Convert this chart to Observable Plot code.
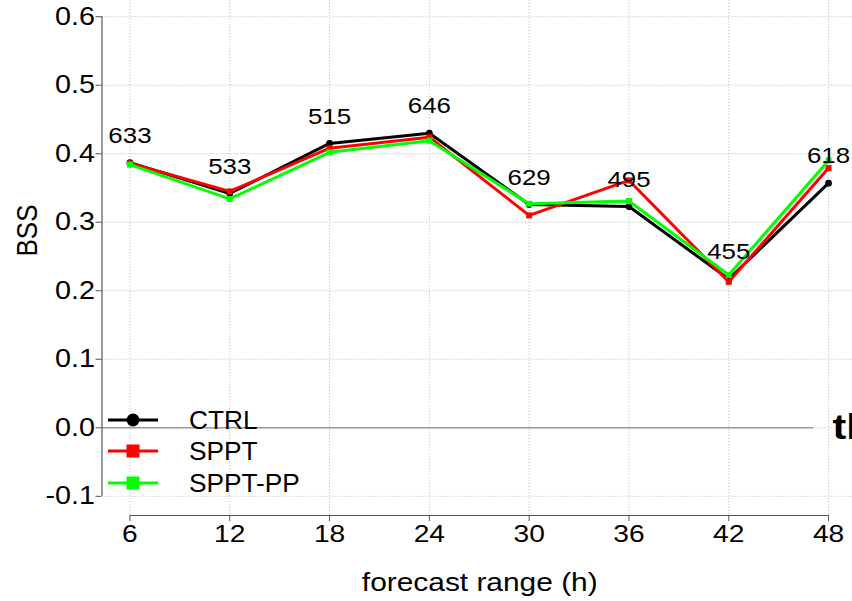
<!DOCTYPE html>
<html>
<head>
<meta charset="utf-8">
<script src="https://cdn.jsdelivr.net/npm/d3@7"></script>
<script src="https://cdn.jsdelivr.net/npm/@observablehq/plot@0.6"></script>
<style>
  html, body { margin: 0; padding: 0; background: #fff; overflow: hidden; }
  #chart svg { display: block; }
</style>
</head>
<body>
<div id="chart"></div>
<script>
// Brier skill score by forecast lead time for three ensemble configurations
const hours = [6, 12, 18, 24, 30, 36, 42, 48];
const ctrl = [0.387, 0.342, 0.415, 0.430, 0.326, 0.323, 0.217, 0.357];
const sppt = [0.386, 0.345, 0.408, 0.424, 0.310, 0.361, 0.213, 0.379];
const spptPP = [0.384, 0.334, 0.402, 0.419, 0.327, 0.331, 0.223, 0.390];
// number of cases at each lead time
const counts = [633, 533, 515, 646, 629, 495, 455, 618];

const yTicks = [-0.1, 0.0, 0.1, 0.2, 0.3, 0.4, 0.5, 0.6];
const seriesNames = ["CTRL", "SPPT", "SPPT-PP"];
const seriesValues = [ctrl, sppt, spptPP];
const seriesColors = ["#000000", "#ff0000", "#00ff00"];
const seriesSymbols = ["circle", "square", "square"];

const W = 852, H = 601;
const FONT = "'Liberation Sans', Arial, Helvetica, sans-serif";
const TEXT_STRETCH = 1.15;   // horizontal widening of all lettering
const LEGEND_STRETCH = 1.05;

// plot region edges in pixels
const leftPx = 101.5, bottomPx = 515, rightPx = 856, topPx = -3;

// R-style 4% expansion of the axis ranges
const xExt = d3.extent(hours), yExt = d3.extent(yTicks);
const xPad = (xExt[1] - xExt[0]) * 0.04, yPad = (yExt[1] - yExt[0]) * 0.04;
const xLo = xExt[0] - xPad, xHi = xExt[1] + xPad;
const yLo = yExt[0] - yPad, yHi = yExt[1] + yPad;

const rows = hours.map((h, i) => ({hour: h, ctrl: ctrl[i], count: counts[i]}));
const seriesRows = seriesNames.map((name, s) =>
  hours.map((h, i) => ({series: name, hour: h, value: seriesValues[s][i]}))
);

// legend drawn in the lower-left corner of the frame
function legend(index, scales, values, dims) {
  const g = d3.create("svg:g").attr("font-family", FONT);
  const x0 = dims.marginLeft, yb = dims.height - dims.marginBottom;
  const rowDy = [-95, -64, -32];
  seriesNames.forEach((name, i) => {
    const y = yb + rowDy[i];
    g.append("line")
      .attr("x1", x0 + 6.5).attr("x2", x0 + 56.5)
      .attr("y1", y).attr("y2", y)
      .attr("stroke", seriesColors[i]).attr("stroke-width", 3);
    if (seriesSymbols[i] === "circle") {
      g.append("circle").attr("cx", x0 + 31.5).attr("cy", y).attr("r", 6.5)
        .attr("fill", seriesColors[i]);
    } else {
      g.append("rect").attr("x", x0 + 25).attr("y", y - 6.5)
        .attr("width", 13).attr("height", 13).attr("fill", seriesColors[i]);
    }
    g.append("text").attr("x", x0 + 87.5).attr("y", y)
      .attr("dy", "0.35em").attr("font-size", 25).attr("fill", "#000")
      .attr("text-anchor", "start").attr("data-stretch", LEGEND_STRETCH)
      .text(name);
  });
  return g.node();
}

const gridStyle = {stroke: "#c4c4c4", strokeOpacity: 1, strokeDasharray: "1.2,1.8", strokeWidth: 1};

const marks = [
  Plot.gridX(hours, gridStyle),
  Plot.gridY(yTicks, gridStyle),
  // zero reference line
  Plot.ruleY([0], {x1: xLo, x2: 47.1, stroke: "#9a9a9a", strokeWidth: 1.5}),
  // axis lines spanning the tick range
  Plot.ruleX([xLo], {y1: yExt[0], y2: yExt[1], stroke: "#555", strokeWidth: 1.2}),
  Plot.ruleY([yLo], {x1: xExt[0], x2: xExt[1], stroke: "#555", strokeWidth: 1.2}),
  Plot.axisY(yTicks, {
    anchor: "left", tickSize: 6, tickPadding: 1, stroke: "#555",
    fill: "#000", fontSize: 25, label: null, tickFormat: d => d.toFixed(1)
  }),
  Plot.axisX(hours, {
    anchor: "bottom", tickSize: 6, tickPadding: 3, stroke: "#555",
    fill: "#000", fontSize: 24.5, label: null, tickFormat: d => String(d)
  })
];

seriesRows.forEach((data, s) => {
  marks.push(Plot.line(data, {x: "hour", y: "value", stroke: seriesColors[s], strokeWidth: 3}));
  marks.push(Plot.dot(data, {
    x: "hour", y: "value", symbol: () => seriesSymbols[s],
    fill: seriesColors[s], r: seriesSymbols[s] === "circle" ? 3.4 : 3.4
  }));
});

marks.push(
  Plot.text(rows, {x: "hour", y: "ctrl", text: "count", dy: -27, fontSize: 22.5, fill: "#000", lineAnchor: "middle"}),
  Plot.text(["th"], {x: () => xExt[1], y: () => 0, text: d => d, dx: 4, textAnchor: "start",
    fontWeight: "bold", fontSize: 36, fill: "#000", lineAnchor: "middle"}),
  Plot.text(["forecast range (h)"], {frameAnchor: "bottom", text: d => d, dx: 2.5, dy: 67,
    fontSize: 26, fill: "#000", lineAnchor: "middle"}),
  Plot.text(["BSS"], {frameAnchor: "left", text: d => d, dx: -77, dy: -1.5, rotate: -90,
    fontSize: 26, fill: "#000", lineAnchor: "middle"}),
  legend
);

const chart = Plot.plot({
  width: W,
  height: H,
  marginLeft: leftPx,
  marginRight: 0,
  marginTop: 0,
  marginBottom: H - bottomPx,
  style: {fontFamily: FONT, background: "#fff", color: "#000"},
  x: {domain: [xLo, xHi], range: [leftPx, rightPx]},
  y: {domain: [yLo, yHi], range: [bottomPx, topPx]},
  marks
});

document.getElementById("chart").appendChild(chart);

// widen every label horizontally about its anchor point
const SVGNS = "http://www.w3.org/2000/svg";
chart.querySelectorAll("text").forEach(t => {
  const factor = +(t.getAttribute("data-stretch") || TEXT_STRETCH);
  const wrap = document.createElementNS(SVGNS, "g");
  t.parentNode.insertBefore(wrap, t);
  wrap.appendChild(t);
  const b = wrap.getBBox();
  const anchor = getComputedStyle(t).textAnchor;
  const ax = anchor === "start" ? b.x : anchor === "end" ? b.x + b.width : b.x + b.width / 2;
  wrap.setAttribute("transform", `translate(${ax},0) scale(${factor},1) translate(${-ax},0)`);
});
</script>
</body>
</html>
